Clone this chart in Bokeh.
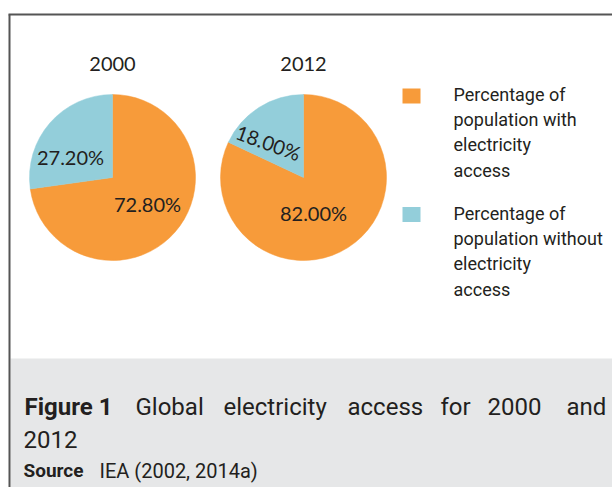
from bokeh.plotting import figure
from bokeh.models import Range1d
from bokeh.core.properties import value
from bokeh.embed import file_html
from bokeh.resources import INLINE
import numpy as np

# ---- data ----
years = ["2000", "2012"]
with_access = [72.80, 82.00]
without_access = [27.20, 18.00]
series_names = ["Percentage of\npopulation with\nelectricity\naccess",
                "Percentage of\npopulation without\nelectricity\naccess"]
colors = ["#F79B3A", "#93CEDA"]
caption_bold = "Figure 1"
caption_words = ["Global", "electricity", "access", "for", "2000", "and"]
caption_line2 = "2012"
source_bold = "Source"
source_text = "IEA (2002, 2014a)"

W, H = 612, 487
p = figure(width=W, height=H, x_range=Range1d(0, W), y_range=Range1d(0, H),
           output_backend="svg", toolbar_location=None, min_border=0)
p.axis.visible = False
p.grid.visible = False
p.outline_line_color = None
p.background_fill_color = "white"
p.border_fill_color = "white"

def Y(v):
    return H - v

# caption panel
p.quad(left=10, right=W, bottom=0, top=Y(358), fill_color="#E6E7E8", line_color=None)
# frame lines
p.line([8, W], [Y(14), Y(14)], line_color="#555555", line_width=2)
p.line([9, 9], [Y(14), 0], line_color="#555555", line_width=2)

pie_cx = [112, 303]
pie_cy = 177
R = 83
lab_font = value("Lato")
ink = "#231F20"

for i, yr in enumerate(years):
    fa = with_access[i] / 100.0
    fb = without_access[i] / 100.0
    # orange clockwise from 12 o'clock
    p.wedge(x=pie_cx[i], y=Y(pie_cy), radius=R,
            start_angle=np.pi / 2 - 2 * np.pi * fa, end_angle=np.pi / 2,
            fill_color=colors[0], line_color=colors[0], line_width=0.5)
    p.wedge(x=pie_cx[i], y=Y(pie_cy), radius=R,
            start_angle=np.pi / 2, end_angle=np.pi / 2 + 2 * np.pi * fb,
            fill_color=colors[1], line_color=colors[1], line_width=0.5)
    p.text(x=[pie_cx[i]], y=[Y(63)], text=[yr], text_align="center",
           text_baseline="middle", text_font=lab_font, text_font_size="20px",
           text_color=ink)

# percentage labels
lbl_x = [70, 147, 268, 313]
lbl_y = [156, 203, 142, 212]
lbl_t = ["%.2f%%" % without_access[0], "%.2f%%" % with_access[0],
         "%.2f%%" % without_access[1], "%.2f%%" % with_access[1]]
lbl_a = [0, 0, -0.35, 0]
p.text(x=lbl_x, y=[Y(v) for v in lbl_y], text=lbl_t, angle=lbl_a,
       text_align="center", text_baseline="middle", text_font=lab_font,
       text_font_size="20px", text_color=ink)

# legend
narrow = value("Roboto")
leg_sq_y = [95.5, 214]
leg_tx_y = [83, 202]
for i in range(2):
    p.quad(left=402, right=420, top=Y(leg_sq_y[i] - 7.5), bottom=Y(leg_sq_y[i] + 7.5),
           fill_color=colors[i], line_color=None)
    p.text(x=[453], y=[Y(leg_tx_y[i])], text=[series_names[i]], text_align="left",
           text_baseline="top", text_font=narrow, text_font_size="18px",
           text_line_height=1.21, text_color=ink)

# caption
cap_font = value("Roboto")
p.text(x=[24], y=[Y(406)], text=[caption_bold], text_align="left", text_baseline="middle",
       text_font=cap_font, text_font_style="bold", text_font_size="24px", text_color=ink)
word_x = [135, 223, 347, 440, 487, 566]
p.text(x=word_x, y=[Y(406)] * len(word_x), text=caption_words, text_align="left",
       text_baseline="middle", text_font=cap_font, text_font_size="24px", text_color=ink)
p.text(x=[23], y=[Y(439)], text=[caption_line2], text_align="left", text_baseline="middle",
       text_font=cap_font, text_font_size="24px", text_color=ink)
p.text(x=[23], y=[Y(470)], text=[source_bold], text_align="left", text_baseline="middle",
       text_font=cap_font, text_font_style="bold", text_font_size="19px", text_color=ink)
p.text(x=[99], y=[Y(470)], text=[source_text], text_align="left", text_baseline="middle",
       text_font=cap_font, text_font_size="20px", text_color=ink)

open("out.html", "w").write(file_html(p, INLINE))
